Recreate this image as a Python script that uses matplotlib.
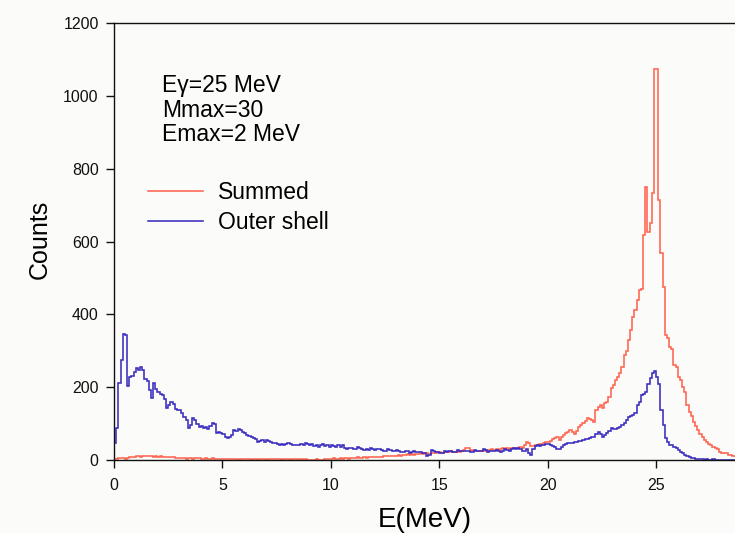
import numpy as np
import matplotlib
matplotlib.use("Agg")
import matplotlib.pyplot as plt

# Histogram binning: 0.1 MeV bins starting at 0 MeV
bin_width = 0.1

# Outer shell spectrum (counts per bin)
outer_shell = [
    48, 88, 211, 274, 346, 344, 203, 229, 232, 242,
    252, 248, 255, 246, 222, 218, 192, 170, 211, 196,
    187, 180, 178, 168, 143, 150, 160, 155, 140, 137,
    137, 130, 119, 110, 88, 96, 115, 110, 100, 91,
    94, 88, 90, 86, 92, 101, 98, 75, 78, 74,
    70, 64, 60, 62, 68, 82, 80, 84, 82, 78,
    74, 69, 66, 64, 60, 58, 50, 52, 54, 50,
    55, 52, 50, 48, 46, 44, 41, 43, 42, 44,
    46, 44, 41, 40, 42, 40, 44, 41, 47, 45,
    42, 44, 38, 40, 37, 42, 45, 38, 40, 36,
    42, 38, 36, 40, 35, 40, 33, 31, 34, 32,
    30, 29, 36, 33, 30, 28, 29, 27, 33, 30,
    28, 29, 31, 28, 26, 25, 30, 28, 24, 26,
    27, 25, 22, 23, 25, 24, 20, 21, 24, 23,
    22, 21, 20, 19, 12, 14, 27, 26, 22, 21,
    18, 20, 24, 23, 25, 24, 22, 23, 28, 26,
    24, 25, 26, 24, 22, 23, 28, 26, 24, 25,
    30, 27, 22, 24, 26, 24, 28, 26, 23, 25,
    30, 28, 26, 29, 33, 31, 33, 30, 25, 24,
    30, 20, 14, 30, 38, 40, 39, 42, 40, 44,
    44, 42, 38, 35, 30, 29, 36, 40, 45, 48,
    47, 46, 50, 49, 52, 51, 55, 57, 58, 60,
    64, 62, 72, 78, 70, 64, 68, 75, 80, 87,
    86, 84, 88, 90, 95, 101, 110, 119, 120, 124,
    128, 150, 160, 178, 180, 188, 210, 225, 240, 243,
    229, 210, 137, 96, 60, 50, 41, 40, 37, 33,
    27, 22, 18, 14, 12, 9, 6, 5, 4, 3,
    2, 2, 1, 2, 1, 1, 2, 1, 1, 0,
    1, 1, 0, 1, 0, 1, 0,
]

# Summed spectrum (counts per bin)
summed = [
    2, 4, 5, 6, 5, 4, 6, 7, 8, 9,
    10, 11, 9, 12, 11, 10, 12, 11, 9, 10,
    9, 10, 8, 9, 8, 7, 8, 7, 6, 6,
    5, 6, 5, 4, 6, 5, 4, 5, 6, 5,
    3, 4, 5, 3, 4, 5, 3, 4, 3, 4,
    3, 2, 3, 4, 2, 3, 2, 1, 3, 2,
    2, 4, 2, 1, 3, 2, 1, 2, 3, 2,
    1, 2, 3, 4, 2, 3, 2, 1, 2, 3,
    2, 1, 2, 3, 2, 1, 2, 1, 2, 1,
    1, 0, 1, 2, 1, 0, 1, 2, 3, 2,
    3, 5, 4, 3, 5, 4, 6, 5, 4, 6,
    5, 6, 7, 5, 6, 7, 6, 7, 8, 7,
    8, 7, 9, 8, 10, 11, 10, 11, 12, 10,
    12, 13, 11, 14, 15, 16, 14, 16, 15, 17,
    17, 18, 16, 18, 19, 17, 19, 20, 18, 21,
    22, 20, 23, 21, 22, 24, 23, 22, 24, 23,
    25, 27, 32, 33, 28, 26, 25, 24, 26, 25,
    27, 26, 28, 27, 29, 28, 30, 27, 31, 32,
    30, 33, 31, 32, 34, 33, 32, 35, 34, 40,
    50, 48, 38, 39, 40, 42, 45, 44, 48, 50,
    50, 52, 57, 60, 64, 55, 62, 69, 73, 78,
    82, 78, 70, 80, 91, 96, 101, 108, 114, 112,
    110, 104, 137, 146, 150, 142, 156, 160, 174, 197,
    205, 220, 229, 240, 256, 288, 300, 330, 357, 393,
    412, 439, 467, 470, 618, 750, 627, 650, 732, 1075,
    1075, 714, 568, 476, 343, 334, 311, 305, 262, 256,
    229, 220, 201, 188, 151, 133, 120, 105, 92, 82,
    70, 64, 55, 50, 45, 41, 37, 34, 30, 23,
    20, 19, 18, 15, 14, 12, 10,
]

series_labels = ["Summed", "Outer shell"]
annotation_lines = ["E\u03b3=25 MeV", "Mmax=30", "Emax=2 MeV"]
x_ticks = [0, 5, 10, 15, 20, 25]
y_ticks = [0, 200, 400, 600, 800, 1000, 1200]

font_main = ["Liberation Sans", "DejaVu Sans"]
font_narrow = ["Liberation Sans Narrow", "Liberation Sans", "DejaVu Sans"]

bg = "#fbfbf9"
red = "#ff6450"
blue = "#3a2cbf"

fig = plt.figure(figsize=(7.35, 5.33), dpi=100, facecolor=bg)
ax = fig.add_axes([0.1551, 0.137, 0.8449, 0.8198])
ax.set_facecolor(bg)

edges_s = np.arange(len(summed) + 1) * bin_width
edges_o = np.arange(len(outer_shell) + 1) * bin_width
ax.stairs(summed, edges_s, color=red, lw=1.15, baseline=None, label=series_labels[0])
ax.stairs(outer_shell, edges_o, color=blue, lw=1.15, baseline=None, label=series_labels[1])

ax.set_xlim(0, 28.64)
ax.set_ylim(0, 1200)
ax.set_xticks(x_ticks)
ax.set_yticks(y_ticks)
ax.spines["right"].set_visible(False)
for s in ("left", "bottom", "top"):
    ax.spines[s].set_linewidth(1.0)
    ax.spines[s].set_color("#111111")
ax.tick_params(direction="out", length=6, width=1, colors="#111111", labelsize=11.5, pad=7)
ax.tick_params(axis="y", pad=5)
for lab in ax.get_xticklabels() + ax.get_yticklabels():
    lab.set_family(font_narrow)

ax.set_xlabel("E(MeV)", fontsize=20, family=font_main, labelpad=10)
ax.set_ylabel("Counts", fontsize=18, family=font_main)
ax.yaxis.set_label_coords(-0.10, 0.506)

# Simulation parameters, one line each
for line, y in zip(annotation_lines, [0.842, 0.785, 0.730]):
    ax.text(0.078, y, line, transform=ax.transAxes, fontsize=16.5,
            family=font_main, va="baseline", ha="left")

ax.legend(loc="upper left", bbox_to_anchor=(0.0215, 0.686), frameon=False,
          handlelength=2.4, handletextpad=0.65, labelspacing=0.33,
          prop={"family": font_main, "size": 16.5})

fig.savefig("out.png", dpi=100, facecolor=bg)
